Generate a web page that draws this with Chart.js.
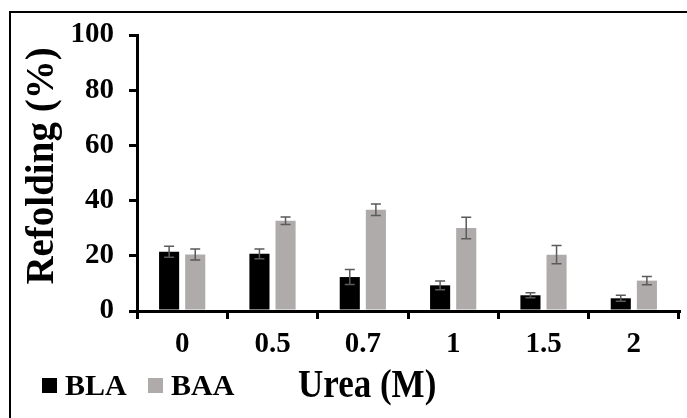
<!DOCTYPE html>
<html>
<head>
<meta charset="utf-8">
<script src="https://cdn.jsdelivr.net/npm/chart.js@4.4.1/dist/chart.umd.min.js"></script>
<style>
  html, body { margin: 0; padding: 0; background: #fff; }
</style>
</head>
<body>
<canvas id="refoldChart" width="687" height="418"></canvas>
<script>
const ureaLabels = ['0', '0.5', '0.7', '1', '1.5', '2'];
const blaValues = [21.5, 20.7, 12.3, 9.3, 5.7, 4.6];
const blaErrors = [2.0, 1.8, 2.7, 1.6, 0.9, 1.1];
const baaValues = [20.5, 32.7, 36.7, 30.1, 20.4, 11.0];
const baaErrors = [2.0, 1.4, 2.1, 3.9, 3.3, 1.5];
const yTicks = [0, 20, 40, 60, 80, 100];

const serif = '"Liberation Serif", "Times New Roman", serif';

// error bars on top of each bar
const errorBars = {
  id: 'errorBars',
  afterDatasetsDraw(chart) {
    const ctx = chart.ctx;
    const yScale = chart.scales.y;
    chart.data.datasets.forEach((ds, i) => {
      chart.getDatasetMeta(i).data.forEach((bar, j) => {
        const top = yScale.getPixelForValue(ds.data[j] + ds.errors[j]);
        const bot = yScale.getPixelForValue(ds.data[j] - ds.errors[j]);
        ctx.save();
        ctx.strokeStyle = '#5a5a5a';
        ctx.lineWidth = 1.5;
        ctx.beginPath();
        ctx.moveTo(bar.x, top); ctx.lineTo(bar.x, bot);
        ctx.moveTo(bar.x - 5, top); ctx.lineTo(bar.x + 5, top);
        ctx.moveTo(bar.x - 5, bot); ctx.lineTo(bar.x + 5, bot);
        ctx.stroke();
        ctx.restore();
      });
    });
  }
};

// legend + axis titles, plus the outer frame
const extras = {
  id: 'extras',
  afterDraw(chart) {
    const ctx = chart.ctx;
    ctx.save();
    ctx.font = 'bold 30px ' + serif;
    ctx.textBaseline = 'alphabetic';
    let x = 42;
    chart.data.datasets.forEach(ds => {
      ctx.fillStyle = ds.backgroundColor;
      ctx.fillRect(x, 378, 15, 15);
      ctx.fillStyle = '#000';
      ctx.fillText(ds.label, x + 23, 395);
      x += 106;
    });
    // x title, a bit taller than wide like the original
    ctx.save();
    ctx.translate(298, 397);
    ctx.scale(1, 1.12);
    ctx.font = 'bold 35px ' + serif;
    ctx.fillText('Urea (M)', 0, 0);
    ctx.restore();
    // y title
    ctx.save();
    ctx.translate(53, 166);
    ctx.rotate(-Math.PI / 2);
    ctx.textAlign = 'center';
    ctx.font = 'bold 39px ' + serif;
    ctx.fillText('Refolding (%)', 0, 0);
    ctx.restore();
    ctx.strokeStyle = '#000';
    ctx.lineWidth = 2;
    ctx.strokeRect(10, 12, 700, 500);
    ctx.restore();
  }
};

const ctx = document.getElementById('refoldChart').getContext('2d');

var refoldChart = new Chart(ctx, {
  type: 'bar',
  data: {
    labels: ureaLabels,
    datasets: [
      {
        label: 'BLA',
        data: blaValues,
        errors: blaErrors,
        backgroundColor: '#000000',
        categoryPercentage: 0.578,
        barPercentage: 0.77
      },
      {
        label: 'BAA',
        data: baaValues,
        errors: baaErrors,
        backgroundColor: '#afabab',
        categoryPercentage: 0.578,
        barPercentage: 0.77
      }
    ]
  },
  options: {
    responsive: false,
    animation: false,
    layout: { padding: { top: 35, right: 8, left: 0, bottom: 0 } },
    plugins: {
      legend: { display: false },
      tooltip: { enabled: false }
    },
    scales: {
      x: {
        grid: { offset: true, drawOnChartArea: false, color: '#000', lineWidth: 3, tickLength: 8 },
        border: { color: '#000', width: 3 },
        ticks: { color: '#000', font: { family: serif, size: 29, weight: 'bold' }, padding: 8 },
        afterFit(s) { s.height = 107; }
      },
      y: {
        min: 0,
        max: 100,
        afterBuildTicks(s) { s.ticks = yTicks.map(v => ({ value: v })); },
        grid: { drawOnChartArea: false, color: '#000', lineWidth: 3, tickLength: 8 },
        border: { color: '#000', width: 3 },
        ticks: { color: '#000', font: { family: serif, size: 29, weight: 'bold' }, padding: 15 },
        afterFit(s) { s.width = 137; }
      }
    }
  },
  plugins: [errorBars, extras]
});
</script>
</body>
</html>
